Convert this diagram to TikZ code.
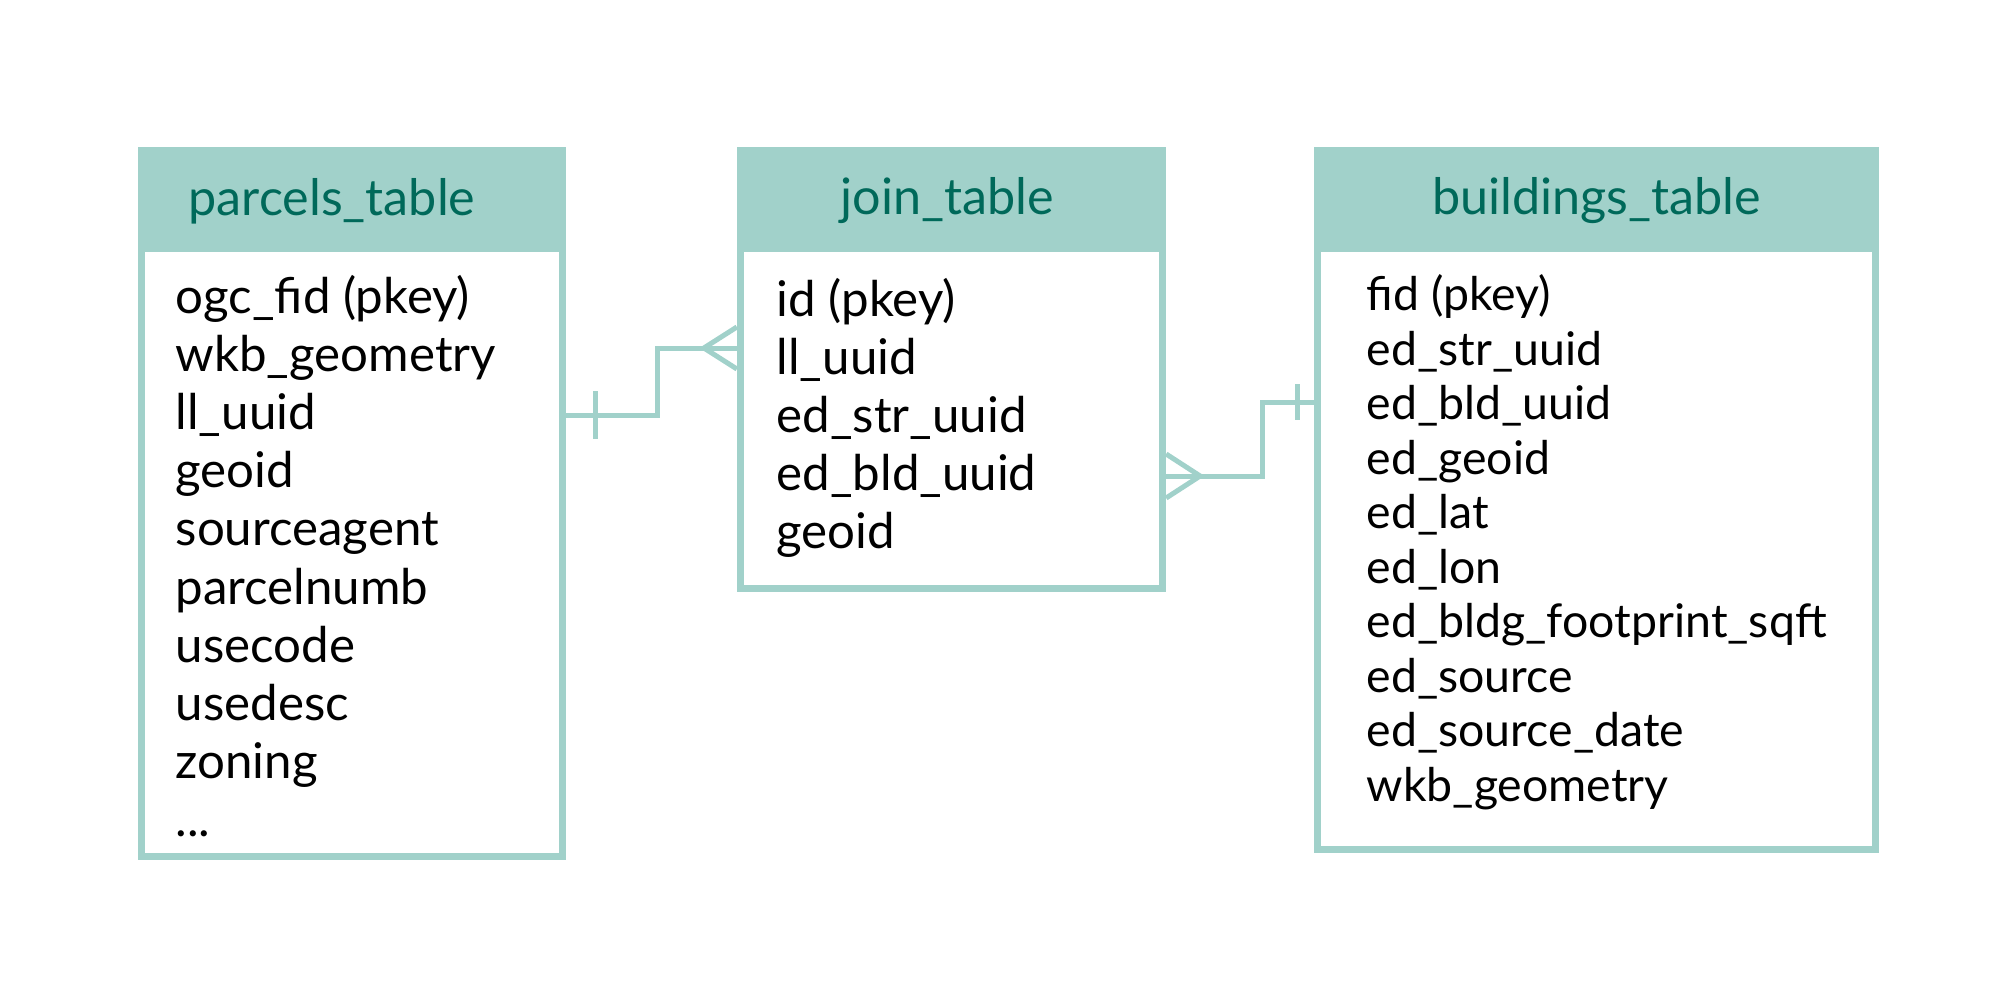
\documentclass[tikz,border=0pt]{standalone}
\usepackage{fontspec}
\setmainfont{Lato}
\usetikzlibrary{calc}
\definecolor{erdteal}{RGB}{161,209,202}
\definecolor{erdtitle}{RGB}{0,105,90}

\begin{document}
\begin{tikzpicture}[x=0.01cm, y=-0.01cm,
		tablebox/.style={draw=erdteal, line width=0.07cm, inner sep=0pt},
		title/.style={text=erdtitle, inner sep=0pt, font=\fontsize{14.3pt}{17pt}\selectfont},
		fields/.style={anchor=north west, align=left, inner sep=0pt},
		link/.style={draw=erdteal, line width=0.05cm}]
	\useasboundingbox (0,0) rectangle (2000,1000);
	% the three tables
	\node[tablebox, minimum width=4.21cm, minimum height=7.06cm] (parcels) at (352,503.5) {};
	\fill[erdteal] (parcels.north west) rectangle ($(parcels.north east)+(0,105)$);
	\node[title] (parcels-title) at ($(parcels.north)+(-20,54)$) {parcels\_table};
	\node[fields, font=\fontsize{14pt}{16.5pt}\selectfont] (parcels-fields) at (175,275)
		{ogc\_fid (pkey)\\ wkb\_geometry\\ ll\_uuid\\ geoid\\ sourceagent\\ parcelnumb\\ usecode\\ usedesc\\ zoning\\ ...};

	\node[tablebox, minimum width=4.22cm, minimum height=4.38cm] (join) at (951.5,369.5) {};
	\fill[erdteal] (join.north west) rectangle ($(join.north east)+(0,105)$);
	\node[title] (join-title) at ($(join.north)+(-4,54)$) {join\_table};
	\node[fields, font=\fontsize{14pt}{16.5pt}\selectfont] (join-fields) at (776,278)
		{id (pkey)\\ ll\_uuid\\ ed\_str\_uuid\\ ed\_bld\_uuid\\ geoid};

	\node[tablebox, minimum width=5.58cm, minimum height=6.99cm] (buildings) at (1596.5,500) {};
	\fill[erdteal] (buildings.north west) rectangle ($(buildings.north east)+(0,105)$);
	\node[title] (buildings-title) at ($(buildings.north)+(0,54)$) {buildings\_table};
	\node[fields, font=\fontsize{13.2pt}{15.5pt}\selectfont] (buildings-fields) at (1366,274)
		{fid (pkey)\\ ed\_str\_uuid\\ ed\_bld\_uuid\\ ed\_geoid\\ ed\_lat\\ ed\_lon\\ ed\_bldg\_footprint\_sqft\\ ed\_source\\ ed\_source\_date\\ wkb\_geometry};

	% parcels -> join (one to many)
	\coordinate (pj-low) at (657,415);
	\coordinate (pj-high) at (657,348);
	\draw[link] (parcels.east |- pj-low) -- (pj-low) -- (pj-high) -- (join.west |- pj-high);
	\draw[link] ($(parcels.east |- pj-low)+(29,-24)$) -- ($(parcels.east |- pj-low)+(29,24)$);
	\draw[link] ($(join.west |- pj-high)+(0,-21)$) -- ($(join.west |- pj-high)+(-33,0)$) -- ($(join.west |- pj-high)+(0,21)$);

	% join -> buildings (many to one)
	\coordinate (jb-low) at (1262,476);
	\coordinate (jb-high) at (1262,402);
	\draw[link] (join.east |- jb-low) -- (jb-low) -- (jb-high) -- (buildings.west |- jb-high);
	\draw[link] ($(buildings.west |- jb-high)+(-16,-18)$) -- ($(buildings.west |- jb-high)+(-16,18)$);
	\draw[link] ($(join.east |- jb-low)+(0,-22)$) -- ($(join.east |- jb-low)+(34,0)$) -- ($(join.east |- jb-low)+(0,22)$);
\end{tikzpicture}
\end{document}
